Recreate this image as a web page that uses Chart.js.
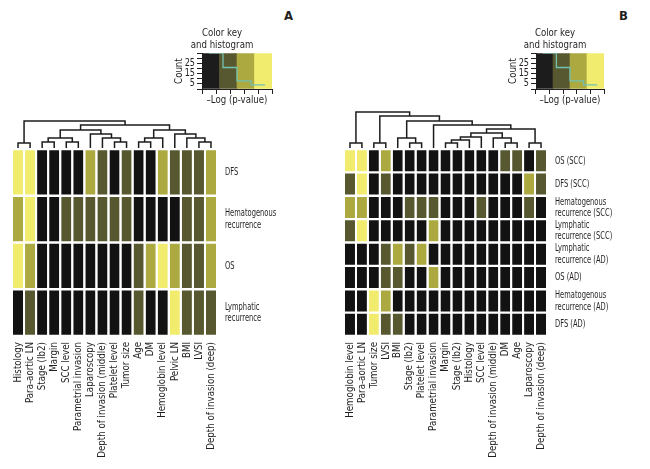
<!DOCTYPE html>
<html>
<head>
<meta charset="utf-8">
<script src="https://cdn.jsdelivr.net/npm/chart.js@4.4.1/dist/chart.umd.min.js"></script>
<style>
html,body{margin:0;padding:0;background:#ffffff;}
#wrap{position:relative;width:650px;height:469px;overflow:hidden;background:#fff;}
.c{position:absolute;}
.c canvas{display:block;}
.panel{position:absolute;font-family:"DejaVu Sans Condensed","DejaVu Sans",sans-serif;font-weight:bold;font-size:13px;color:#231f20;line-height:13px;}
</style>
</head>
<body>
<div id="wrap">
  <div class="panel" style="left:284px;top:9px">A</div>
  <div class="panel" style="left:619px;top:9px">B</div>
  <div class="c" style="left:172px;top:27px"><canvas id="keyA" width="130" height="82"></canvas></div>
  <div class="c" style="left:506px;top:27px"><canvas id="keyB" width="128" height="82"></canvas></div>
  <div class="c" style="left:12px;top:116px"><canvas id="dendA" width="205" height="32"></canvas></div>
  <div class="c" style="left:344px;top:108px"><canvas id="dendB" width="203" height="40"></canvas></div>
  <div class="c" style="left:12px;top:149px"><canvas id="heatA" width="315" height="312"></canvas></div>
  <div class="c" style="left:344px;top:149px"><canvas id="heatB" width="303" height="312"></canvas></div>
</div>
<script>
// ---------- data ----------
const levelColors = ['#121212', '#57582f', '#aba93f', '#f1ec6d'];

// Panel A
const colsA = ['Histology','Para-aortic LN','Stage (Ib2)','Margin','SCC level','Parametrial invasion','Laparoscopy','Depth of invasion (middle)','Platelet level','Tumor size','Age','DM','Hemoglobin level','Pelvic LN','BMI','LVSI','Depth of invasion (deep)'];
const rowsA = ['DFS', ['Hematogenous','recurrence'], 'OS', ['Lymphatic','recurrence']];
const a_DFS = [3,3,0,0,0,0,2,1,0,1,0,0,2,1,1,1,2];
const a_Hem = [2,3,0,0,1,1,1,1,1,1,0,0,0,0,1,1,2];
const a_OS  = [3,2,0,0,0,0,0,0,0,0,1,2,3,2,1,1,2];
const a_Lym = [0,1,0,0,0,0,0,0,0,0,1,0,0,3,1,1,1];
// dendrogram A (hclust style: negative = leaf, positive = earlier merge)
const dendA_left   = [-1,-3,-5, 2,-9,-8,-7, 4,-11, 9,-16,-15,-14,10, 8, 1];
const dendA_right  = [-2,-4,-6, 3,-10, 5, 6, 7,-12,-13,-17,11,12,13,14,15];
const dendA_height = [ 5, 6, 6,10, 6,10,14,18, 6,10, 6,10,14,18,23,27];

// Panel B
const colsB = ['Hemoglobin level','Para-aortic LN','Tumor size','LVSI','BMI','Stage (Ib2)','Platelet level','Parametrial invasion','Margin','Stage (Ib2)','Histology','SCC level','Depth of invasion (middle)','DM','Age','Laparoscopy','Depth of invasion (deep)'];
const rowsB = ['OS (SCC)','DFS (SCC)',['Hematogenous','recurrence (SCC)'],['Lymphatic','recurrence (SCC)'],['Lymphatic','recurrence (AD)'],'OS (AD)',['Hematogenous','recurrence (AD)'],'DFS (AD)'];
const b_OS_SCC  = [3,3,0,2,0,0,0,0,0,0,0,0,0,1,1,0,1];
const b_DFS_SCC = [1,3,0,1,0,0,0,0,0,0,0,0,0,0,0,2,1];
const b_Hem_SCC = [2,2,0,0,0,1,1,1,0,0,0,1,0,0,0,1,0];
const b_Lym_SCC = [1,3,0,0,0,0,0,2,0,0,0,0,0,0,0,0,0];
const b_Lym_AD  = [0,0,0,1,2,1,2,0,0,0,0,0,0,0,0,0,0];
const b_OS_AD   = [0,0,0,1,1,0,0,2,0,0,0,0,0,0,0,0,0];
const b_Hem_AD  = [0,0,3,2,0,0,0,0,0,0,0,0,0,0,0,0,0];
const b_DFS_AD  = [0,0,3,1,1,0,0,0,0,0,0,0,0,0,0,0,0];
const dendB_left   = [-1,-3,-6,-5,-9, 5, 6,-14,-13, 7,-16,10,-8, 4, 2, 1];
const dendB_right  = [-2,-4,-7, 3,-10,-11,-12,-15, 8, 9,-17,11,12,13,14,15];
const dendB_height = [ 5, 5, 5,10, 5, 8,11, 5,10,15, 5,19,23,27,32,36];

// Color key / histogram
const keyBins = ['0','1','2','3'];
const keyBreaks = [0,1,2,3,4];
const histA = [35,21,8,4];
const histB = [35,21,8,4];
const countTicks = [5,15,25];

// ---------- rendering ----------
const FONT = '"DejaVu Sans Condensed","DejaVu Sans",sans-serif';
const TXT = '#231f20';
Chart.defaults.font.family = FONT;
Chart.defaults.color = TXT;
Chart.defaults.animation = false;
Chart.defaults.devicePixelRatio = 1;
Chart.defaults.plugins.legend.display = false;
Chart.defaults.plugins.tooltip.enabled = false;

// narrow the rendered glyphs (the source uses a condensed typeface)
function condense(canvas, factorBySize) {
  const ctx = canvas.getContext('2d');
  const orig = ctx.fillText;
  ctx.fillText = function (text, x, y, maxWidth) {
    const m = /([\d.]+)px/.exec(this.font);
    const f = (m && factorBySize[m[1]]) || factorBySize.default || 1;
    const w = this.measureText(text).width * f;
    const mw = (maxWidth === undefined) ? w : Math.min(maxWidth, w);
    return orig.call(this, text, x, y, mw);
  };
  return canvas;
}

function heatmap(id, cols, rowLabels, rowLevels, rightW, bottomH) {
  const datasets = rowLevels.map(lv => ({
    type: 'bar',
    data: lv.map(() => 1),
    backgroundColor: lv.map(v => levelColors[v]),
    borderColor: '#ffffff',
    borderWidth: {top: 1.2, bottom: 1.2, left: 0, right: 0},
    borderSkipped: false,
    barPercentage: 0.84,
    categoryPercentage: 1,
    xAxisID: 'x', yAxisID: 'y'
  }));
  const cv = condense(document.getElementById(id), {'10.5': 0.92, '11': 0.68});
  new Chart(cv, {
    type: 'bar',
    data: { labels: cols, datasets },
    options: {
      responsive: false,
      layout: { padding: 0, autoPadding: false },
      scales: {
        x: {
          type: 'category', stacked: true, offset: true,
          grid: { display: false, drawTicks: false }, border: { display: false },
          ticks: { minRotation: 90, maxRotation: 90, autoSkip: false, padding: 6, color: TXT, font: { size: 10.5 } },
          afterFit: s => { s.height = bottomH; s.paddingLeft = 0; s.paddingRight = 0; }
        },
        y: { type: 'linear', stacked: true, min: 0, max: rowLevels.length, reverse: true, display: false },
        yl: {
          type: 'category', labels: rowLabels, position: 'right', offset: true,
          grid: { display: false, drawTicks: false }, border: { display: false },
          ticks: { autoSkip: false, padding: 8, color: TXT, font: { size: 11, lineHeight: 1.05 } },
          afterFit: s => { s.width = rightW; s.paddingTop = 0; s.paddingBottom = 0; }
        }
      }
    }
  });
}

function dendrogram(id, left, right, height, nLeaves, ymax) {
  const xs = [], hs = [], datasets = [];
  for (let i = 0; i < left.length; i++) {
    const a = left[i], b = right[i];
    const xa = a < 0 ? -a - 1 : xs[a - 1], ha = a < 0 ? 0 : hs[a - 1];
    const xb = b < 0 ? -b - 1 : xs[b - 1], hb = b < 0 ? 0 : hs[b - 1];
    const h = height[i];
    xs.push((xa + xb) / 2); hs.push(h);
    datasets.push({
      data: [{x: xa, y: ha}, {x: xa, y: h}, {x: xb, y: h}, {x: xb, y: hb}],
      showLine: true, borderColor: '#1c1c1c', borderWidth: 1.5,
      pointRadius: 0, fill: false, tension: 0
    });
  }
  new Chart(document.getElementById(id), {
    type: 'scatter',
    data: { datasets },
    options: {
      responsive: false,
      layout: { padding: 0, autoPadding: false },
      scales: {
        x: { type: 'linear', min: -0.5, max: nLeaves - 0.5, display: false },
        y: { type: 'linear', min: 0, max: ymax, display: false }
      }
    }
  });
}

function colorKey(id, hist) {
  const ymax = 35;
  const cv = condense(document.getElementById(id), {'11': 0.87, '10': 0.9});
  new Chart(cv, {
    type: 'bar',
    data: {
      labels: keyBins,
      datasets: [
        {
          type: 'line', xAxisID: 'xh', yAxisID: 'y', order: 0,
          data: keyBreaks.map((b, i) => ({x: b, y: hist[Math.min(i, hist.length - 1)]})),
          stepped: true, borderColor: '#72c2b2', borderWidth: 1.3, pointRadius: 0, fill: false
        },
        {
          type: 'bar', xAxisID: 'x', yAxisID: 'y', order: 1,
          data: keyBins.map(() => [0, ymax]),
          backgroundColor: levelColors.map((c, i) => i === 0 ? '#1c1c1c' : c),
          borderWidth: 0, barPercentage: 1, categoryPercentage: 1, grouped: false
        }
      ]
    },
    options: {
      responsive: false,
      layout: { padding: { left: 0, right: 30, top: 0, bottom: 0 }, autoPadding: false },
      plugins: {
        title: {
          display: true, text: ['Color key', 'and histogram'], color: TXT,
          font: { size: 11, weight: 'normal', lineHeight: 1.1 }, padding: { top: 0, bottom: 2 }
        }
      },
      scales: {
        x: { type: 'category', offset: true, display: false },
        xh: {
          type: 'linear', position: 'bottom', min: 0, max: 4,
          grid: { display: true, drawOnChartArea: false, drawTicks: true, tickLength: 5, color: TXT, lineWidth: 1 },
          border: { display: true, color: TXT, width: 1 },
          ticks: { stepSize: 1, callback: () => '', padding: 0 },
          title: { display: true, text: '\u2013Log (p-value)', color: TXT, font: { size: 11 }, padding: { top: 0, bottom: 2 } },
          afterFit: s => { s.height = 20; }
        },
        y: {
          type: 'linear', min: 0, max: ymax, position: 'left',
          grid: { display: true, drawOnChartArea: false, drawTicks: true, tickLength: 5, color: TXT, lineWidth: 1 },
          border: { display: true, color: TXT, width: 1 },
          ticks: { stepSize: 5, autoSkip: false, padding: 2, color: TXT, font: { size: 10 },
                   callback: v => countTicks.includes(v) ? String(v) : '' },
          title: { display: true, text: 'Count', color: TXT, font: { size: 11 }, padding: { top: 1, bottom: 0 } },
          afterFit: s => { s.width = 30; }
        }
      }
    }
  });
}

colorKey('keyA', histA);
colorKey('keyB', histB);
dendrogram('dendA', dendA_left, dendA_right, dendA_height, colsA.length, 32);
dendrogram('dendB', dendB_left, dendB_right, dendB_height, colsB.length, 40);
heatmap('heatA', colsA, rowsA, [a_DFS, a_Hem, a_OS, a_Lym], 110, 125);
heatmap('heatB', colsB, rowsB, [b_OS_SCC, b_DFS_SCC, b_Hem_SCC, b_Lym_SCC, b_Lym_AD, b_OS_AD, b_Hem_AD, b_DFS_AD], 100, 125);
</script>
</body>
</html>
